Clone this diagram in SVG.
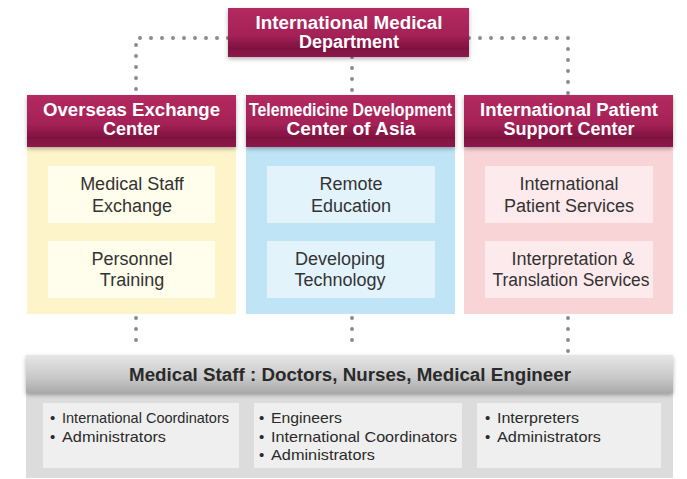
<svg xmlns="http://www.w3.org/2000/svg" width="687" height="479" viewBox="0 0 687 479">
<defs>
<linearGradient id="hdr" x1="0" y1="0" x2="0" y2="1">
<stop offset="0" stop-color="#b32a60"/>
<stop offset="0.55" stop-color="#a52257"/>
<stop offset="0.82" stop-color="#7e1140"/>
<stop offset="1" stop-color="#8f1a4b"/>
</linearGradient>
<linearGradient id="gbar" x1="0" y1="0" x2="0" y2="1">
<stop offset="0" stop-color="#e6e6e6"/>
<stop offset="0.6" stop-color="#c8c8c8"/>
<stop offset="1" stop-color="#a9a9aa"/>
</linearGradient>
<filter id="sh" x="-10%" y="-20%" width="120%" height="160%">
<feDropShadow dx="0" dy="2" stdDeviation="2" flood-color="#000" flood-opacity="0.3"/>
</filter>
</defs>
<style>
.dot{fill:none;stroke:#8c8c8c;stroke-width:4;stroke-linecap:round;stroke-dasharray:0 11}
.hdr{fill:url(#hdr)}
.ht{font-family:"Liberation Sans",Arial,sans-serif;font-weight:bold;font-size:18px;fill:#fff;text-anchor:middle}
.it{font-family:"Liberation Sans",Arial,sans-serif;font-size:18px;fill:#333;text-anchor:middle}
.bt{font-family:"Liberation Sans",Arial,sans-serif;font-size:15px;fill:#2a2a2a}
.mt{font-family:"Liberation Sans",Arial,sans-serif;font-weight:bold;font-size:18px;fill:#2a2a2a;text-anchor:middle}
</style>
<rect width="687" height="479" fill="#fff"/>
<g id="connectors">
<path class="dot" d="M228 38 H136 V95"/>
<path class="dot" d="M469 38 H568 V95"/>
<path class="dot" d="M352 57 V95"/>
<path class="dot" d="M136 318 V350"/>
<path class="dot" d="M352 318 V350"/>
<path class="dot" d="M568 318 V352"/>
</g>
<g id="top">
<rect class="hdr" x="228" y="8" width="241" height="49" filter="url(#sh)"/>
<text class="ht" x="349" y="29" textLength="187" lengthAdjust="spacingAndGlyphs">International Medical</text>
<text class="ht" x="349" y="48">Department</text>
</g>
<g id="overseas">
<rect x="27" y="147" width="209" height="167" fill="#fdf5c9"/>
<rect class="hdr" x="27" y="95" width="209" height="52" filter="url(#sh)"/>
<text class="ht" x="131.5" y="116" textLength="177" lengthAdjust="spacingAndGlyphs">Overseas Exchange</text>
<text class="ht" x="131.5" y="135">Center</text>
<rect x="48" y="166" width="167" height="57" fill="#fffdec"/>
<text class="it" x="132" y="190">Medical Staff</text>
<text class="it" x="132" y="212">Exchange</text>
<rect x="48" y="241" width="167" height="57" fill="#fffdec"/>
<text class="it" x="132" y="265">Personnel</text>
<text class="it" x="132" y="286">Training</text>
</g>
<g id="telemedicine">
<rect x="246" y="147" width="209" height="167" fill="#bfe4f6"/>
<rect class="hdr" x="246" y="95" width="209" height="52" filter="url(#sh)"/>
<text class="ht" x="350.5" y="116" textLength="203" lengthAdjust="spacingAndGlyphs">Telemedicine Development</text>
<text class="ht" x="351" y="135" textLength="129" lengthAdjust="spacingAndGlyphs">Center of Asia</text>
<rect x="267" y="166" width="168" height="57" fill="#e2f3fc"/>
<text class="it" x="351" y="190">Remote</text>
<text class="it" x="351" y="212">Education</text>
<rect x="267" y="241" width="168" height="57" fill="#e2f3fc"/>
<text class="it" x="340" y="265">Developing</text>
<text class="it" x="340" y="286">Technology</text>
</g>
<g id="patient">
<rect x="464" y="147" width="209" height="167" fill="#f9d4d6"/>
<rect class="hdr" x="464" y="95" width="209" height="52" filter="url(#sh)"/>
<text class="ht" x="569" y="116" textLength="178" lengthAdjust="spacingAndGlyphs">International Patient</text>
<text class="ht" x="569" y="135">Support Center</text>
<rect x="485" y="166" width="168" height="57" fill="#fdeaec"/>
<text class="it" x="569" y="190">International</text>
<text class="it" x="569" y="212">Patient Services</text>
<rect x="485" y="241" width="168" height="57" fill="#fdeaec"/>
<text class="it" x="573" y="265">Interpretation &amp;</text>
<text class="it" x="571" y="286" textLength="157" lengthAdjust="spacingAndGlyphs">Translation Services</text>
</g>
<g id="staff">
<rect x="26" y="392" width="647" height="86" fill="#dcdcdd"/>
<rect x="26" y="355" width="647" height="38" fill="url(#gbar)" filter="url(#sh)"/>
<text class="mt" x="350" y="381" textLength="442" lengthAdjust="spacingAndGlyphs">Medical Staff : Doctors, Nurses, Medical Engineer</text>
<rect x="43" y="403" width="196" height="65" fill="#efefef"/>
<text class="bt" x="50" y="423">•</text><text class="bt" x="62" y="423" textLength="167" lengthAdjust="spacingAndGlyphs">International Coordinators</text>
<text class="bt" x="50" y="442">•</text><text class="bt" x="62" y="442" textLength="104" lengthAdjust="spacingAndGlyphs">Administrators</text>
<rect x="254" y="403" width="208" height="65" fill="#efefef"/>
<text class="bt" x="259" y="423">•</text><text class="bt" x="271" y="423" textLength="71" lengthAdjust="spacingAndGlyphs">Engineers</text>
<text class="bt" x="259" y="442">•</text><text class="bt" x="271" y="442" textLength="186" lengthAdjust="spacingAndGlyphs">International Coordinators</text>
<text class="bt" x="259" y="460">•</text><text class="bt" x="271" y="460" textLength="104" lengthAdjust="spacingAndGlyphs">Administrators</text>
<rect x="477" y="403" width="184" height="65" fill="#efefef"/>
<text class="bt" x="485" y="423">•</text><text class="bt" x="497" y="423" textLength="82" lengthAdjust="spacingAndGlyphs">Interpreters</text>
<text class="bt" x="485" y="442">•</text><text class="bt" x="497" y="442" textLength="104" lengthAdjust="spacingAndGlyphs">Administrators</text>
</g>
</svg>
